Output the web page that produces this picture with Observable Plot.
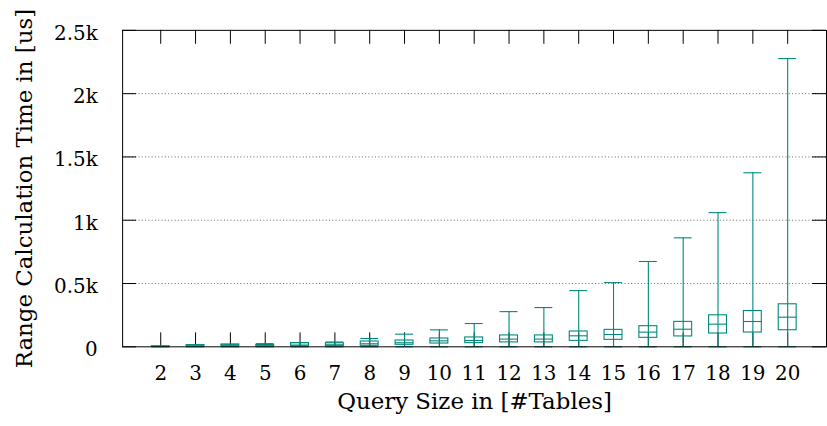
<!DOCTYPE html>
<html><head><meta charset="utf-8">
<script src="https://cdn.jsdelivr.net/npm/d3@7"></script>
<script src="https://cdn.jsdelivr.net/npm/@observablehq/plot@0.6"></script>
<style>html,body{margin:0;padding:0;overflow:hidden;background:#fff}</style>
</head><body><div id="chart"></div>
<script>
const sizes      = [2, 3, 4, 5, 6, 7, 8, 9, 10, 11, 12, 13, 14, 15, 16, 17, 18, 19, 20];
const whiskerLow = [0, 0, 0, 0, 0, 0, 0, 0, 0, 0, 0, 0, 0, 0, 0, 0, 0, 0, 0];
const q1         = [0, 1, 2, 3, 4, 5, 8, 16, 26, 29, 35, 35, 47, 55, 71, 82, 105, 113, 131];
const medians    = [2, 6, 8, 8, 14, 16, 24, 32, 47, 50, 61, 61, 87, 97, 116, 139, 179, 200, 234];
const q3         = [4, 13, 18, 14, 30, 28, 42, 50, 66, 74, 90, 90, 121, 134, 163, 197, 249, 283, 336];
const whiskerHigh= [5, 15, 20, 25, 32, 38, 66, 100, 134, 184, 278, 310, 444, 507, 674, 861, 1060, 1375, 2277];
const yTicks     = [0, 500, 1000, 1500, 2000, 2500];
const yTickLabels= ["0", "0.5k", "1k", "1.5k", "2k", "2.5k"];
const gridValues = [500, 1000, 1500, 2000];
const xTitle = "Query Size in [#Tables]";
const yTitle = "Range Calculation Time in [us]";

const data = sizes.map((s, i) => ({size: s, low: whiskerLow[i], q1: q1[i], med: medians[i], q3: q3[i], high: whiskerHigh[i]}));

const W = 831, H = 426, mL = 122.7, mR = 1, mT = 30, mB = 78;
const frameW = W - mL - mR, frameH = H - mT - mB, tick = 14;
const teal = "#00897b";
const font = "DejaVu Serif";

const chart = Plot.plot({
  width: W, height: H,
  marginLeft: mL, marginRight: mR, marginTop: mT, marginBottom: mB,
  style: {fontFamily: font, fontSize: "20px", background: "white", color: "black", overflow: "visible"},
  x: {type: "band", domain: sizes, paddingInner: 0.48, paddingOuter: 0.74},
  y: {domain: [0, 2500]},
  marks: [
    Plot.ruleY(gridValues, {stroke: "#666", strokeDasharray: "1,2.3"}),
    Plot.ruleX(sizes, {x: d => d, insetTop: frameH - tick, stroke: "#000"}),
    Plot.ruleX(sizes, {x: d => d, insetBottom: frameH - tick, stroke: "#000"}),
    Plot.ruleY(yTicks, {insetRight: frameW - tick, stroke: "#000"}),
    Plot.ruleY(yTicks, {insetLeft: frameW - tick, stroke: "#000"}),
    Plot.ruleX(data, {x: "size", y1: "low", y2: "high", stroke: teal, strokeWidth: 1.1}),
    Plot.barY(data, {x: "size", y1: "q1", y2: "q3", fill: "none", stroke: teal, strokeWidth: 1.1}),
    Plot.tickY(data, {x: "size", y: "med", stroke: teal, strokeWidth: 1.1}),
    Plot.tickY(data, {x: "size", y: "high", stroke: teal, strokeWidth: 1.1}),
    Plot.tickY(data, {x: "size", y: "low", stroke: teal, strokeWidth: 1.1}),
    Plot.frame({stroke: "#000"}),
    Plot.axisX({tickSize: 0, tickPadding: 19, label: null, fontSize: 20}),
    Plot.axisY(yTicks, {tickSize: 0, tickPadding: 25, label: null, fontSize: 20, dy: 3,
      tickFormat: d => yTickLabels[yTicks.indexOf(d)]}),
    Plot.text([xTitle], {text: d => d, frameAnchor: "bottom", dy: 55, lineAnchor: "middle", textAnchor: "middle", fontSize: 23}),
    Plot.text([yTitle], {text: d => d, frameAnchor: "left", dx: -98, rotate: -90, lineAnchor: "middle", textAnchor: "middle", fontSize: 23})
  ]
});
document.getElementById("chart").append(chart);
</script>
</body></html>
